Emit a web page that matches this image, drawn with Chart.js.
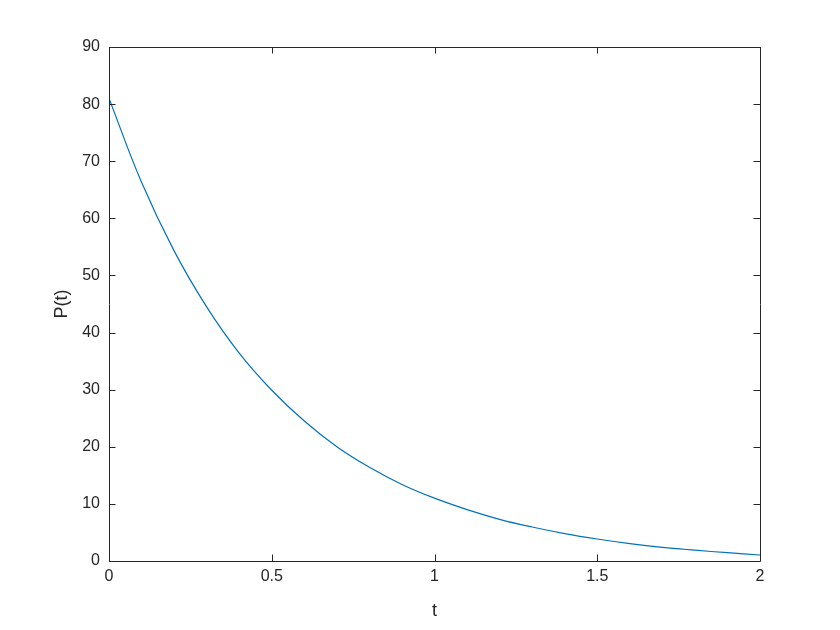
<!DOCTYPE html>
<html>
<head>
<meta charset="utf-8">
<title>P(t)</title>
<script src="https://cdn.jsdelivr.net/npm/chart.js@4.4.0/dist/chart.umd.min.js"></script>
<style>
  html, body { margin: 0; padding: 0; background: #fff; }
  #wrap { width: 840px; height: 630px; }
</style>
</head>
<body>
<div id="wrap"><canvas id="plot" width="840" height="630"></canvas></div>
<script>
// values
const tValues = [0, 0.1, 0.2, 0.3, 0.4, 0.5, 0.6, 0.7, 0.8, 0.9, 1.0,
                 1.1, 1.2, 1.3, 1.4, 1.5, 1.6, 1.7, 1.8, 1.9, 2.0];
const pValues = [81, 66.3, 54.3, 44.5, 36.4, 29.9, 24.5, 20.0, 16.4, 13.4, 11.0,
                 9.0, 7.3, 5.95, 4.8, 3.85, 3.05, 2.4, 1.9, 1.45, 1.05];
const xTicks = [0, 0.5, 1, 1.5, 2];
const yTicks = [0, 10, 20, 30, 40, 50, 60, 70, 80, 90];

const axisColor = "#262626";
const fontFamily = "'Liberation Sans', Arial, Helvetica, sans-serif";

// MATLAB-like box with inward ticks on all four sides
const boxPlugin = {
  id: "box",
  afterDraw(chart) {
    const { ctx, chartArea: a, scales } = chart;
    const len = 6.5;
    ctx.save();
    ctx.strokeStyle = axisColor;
    ctx.lineWidth = 1;
    ctx.beginPath();
    ctx.rect(Math.round(a.left) + 0.5, Math.round(a.top) + 0.5,
             Math.round(a.right - a.left), Math.round(a.bottom - a.top));
    xTicks.forEach(v => {
      const px = Math.round(scales.x.getPixelForValue(v)) + 0.5;
      ctx.moveTo(px, a.bottom); ctx.lineTo(px, a.bottom - len);
      ctx.moveTo(px, a.top); ctx.lineTo(px, a.top + len);
    });
    yTicks.forEach(v => {
      const py = Math.round(scales.y.getPixelForValue(v)) + 0.5;
      ctx.moveTo(a.left, py); ctx.lineTo(a.left + len, py);
      ctx.moveTo(a.right, py); ctx.lineTo(a.right - len, py);
    });
    ctx.stroke();
    ctx.restore();
  }
};

const ctx = document.getElementById("plot").getContext("2d");
new Chart(ctx, {
  type: "line",
  data: {
    datasets: [{
      data: tValues.map((t, i) => ({ x: t, y: pValues[i] })),
      borderColor: "#0072BD",
      borderWidth: 1.2,
      pointRadius: 0,
      fill: false,
      tension: 0.4
    }]
  },
  options: {
    responsive: false,
    animation: false,
    layout: { padding: { left: 0, top: 47, right: 80, bottom: 0 } },
    plugins: { legend: { display: false }, tooltip: { enabled: false } },
    scales: {
      x: {
        type: "linear",
        min: 0, max: 2,
        afterBuildTicks: s => { s.ticks = xTicks.map(v => ({ value: v })); },
        afterFit: s => { s.height = 69; },
        grid: { display: false, drawTicks: false },
        border: { display: false },
        ticks: { color: axisColor, padding: 6, maxRotation: 0,
                 callback: v => String(v),
                 font: { family: fontFamily, size: 16 } },
        title: { display: true, text: "t", color: axisColor,
                 padding: { top: 0, bottom: 8 },
                 font: { family: fontFamily, size: 18 } }
      },
      y: {
        type: "linear",
        min: 0, max: 90,
        afterBuildTicks: s => { s.ticks = yTicks.map(v => ({ value: v })); },
        afterFit: s => { s.width = 109; },
        grid: { display: false, drawTicks: false },
        border: { display: false },
        ticks: { color: axisColor, padding: 9,
                 callback: v => String(v),
                 font: { family: fontFamily, size: 16 } },
        title: { display: true, text: "P(t)", color: axisColor,
                 padding: { top: 51, bottom: 0 },
                 font: { family: fontFamily, size: 18 } }
      }
    }
  },
  plugins: [boxPlugin]
});
</script>
</body>
</html>
